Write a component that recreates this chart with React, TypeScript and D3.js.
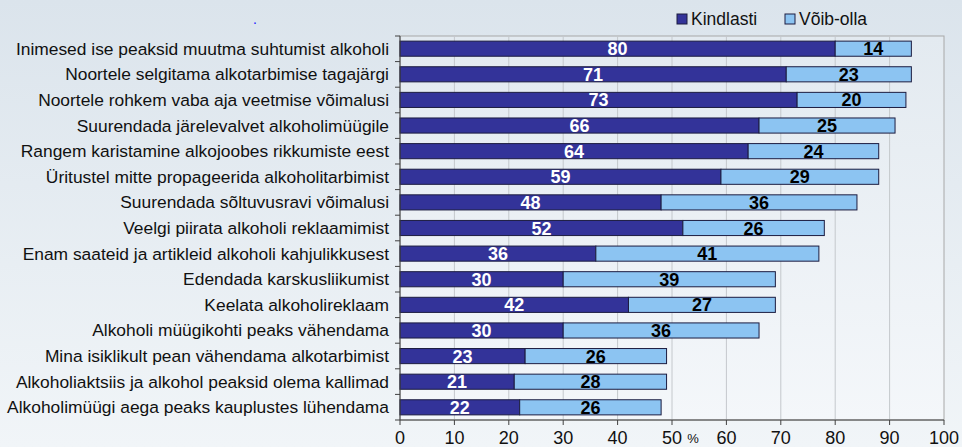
import React from "react";
import * as d3 from "d3";

const categories = [
  "Inimesed ise peaksid muutma suhtumist alkoholi",
  "Noortele selgitama alkotarbimise tagajärgi",
  "Noortele rohkem vaba aja veetmise võimalusi",
  "Suurendada järelevalvet alkoholimüügile",
  "Rangem karistamine alkojoobes rikkumiste eest",
  "Üritustel mitte propageerida alkoholitarbimist",
  "Suurendada sõltuvusravi võimalusi",
  "Veelgi piirata alkoholi reklaamimist",
  "Enam saateid ja artikleid alkoholi kahjulikkusest",
  "Edendada karskusliikumist",
  "Keelata alkoholireklaam",
  "Alkoholi müügikohti peaks vähendama",
  "Mina isiklikult pean vähendama alkotarbimist",
  "Alkoholiaktsiis ja alkohol peaksid olema kallimad",
  "Alkoholimüügi aega peaks kauplustes lühendama",
];
const kindlasti = [80, 71, 73, 66, 64, 59, 48, 52, 36, 30, 42, 30, 23, 21, 22];
const voibOlla = [14, 23, 20, 25, 24, 29, 36, 26, 41, 39, 27, 36, 26, 28, 26];
const seriesNames = ["Kindlasti", "Võib-olla"];
const xTicks = [0, 10, 20, 30, 40, 50, 60, 70, 80, 90, 100];

const W = 962;
const H = 447;
const DARK = "#333399";
const LIGHT = "#8cc4f2";
const FONT = "'Liberation Sans', Arial, sans-serif";

export default function App() {
  const x = d3.scaleLinear().domain([0, 100]).range([400, 944]);
  const y = d3.scaleBand<string>().domain(categories).range([36, 420]).paddingInner(0.41).paddingOuter(0.2);
  const bh = y.bandwidth();
  const boundaries = d3.range(categories.length + 1).map((i) => 36 + i * (384 / categories.length));

  return (
    <svg width={W} height={H} style={{ position: "absolute", left: 0, top: 0, display: "block" }} fontFamily={FONT}>
      <defs>
        <linearGradient id="bg" x1="0" y1="0" x2="0" y2="1">
          <stop offset="0" stopColor="#dbe4ec" />
          <stop offset="1" stopColor="#f1f5f8" />
        </linearGradient>
        <linearGradient id="plotbg" x1="0" y1="0" x2="0" y2="1">
          <stop offset="0" stopColor="#e3eaf0" />
          <stop offset="1" stopColor="#f4f7fa" />
        </linearGradient>
      </defs>
      <rect x={0} y={0} width={W} height={H} fill="url(#bg)" />
      <rect x={x(0)} y={36} width={x(100) - x(0)} height={384} fill="url(#plotbg)" stroke="#a8a8a8" strokeWidth={1} />
      <text x={253} y={24} fill="#2020ff" fontSize={14}>.</text>
      {/* grid */}
      {xTicks.slice(1, -1).map((t) => (
        <line key={t} x1={x(t)} x2={x(t)} y1={36} y2={420} stroke="#c4c8cc" strokeWidth={1} />
      ))}
      {/* bars */}
      {categories.map((c, i) => {
        const yy = y(c) as number;
        const a = kindlasti[i];
        const b = voibOlla[i];
        return (
          <g key={c}>
            <rect x={x(0)} y={yy} width={x(a) - x(0)} height={bh} fill={DARK} stroke="#1c1c40" strokeWidth={1} />
            <rect x={x(a)} y={yy} width={x(a + b) - x(a)} height={bh} fill={LIGHT} stroke="#1c1c40" strokeWidth={1} />
            <text x={(x(0) + x(a)) / 2} y={yy + bh / 2 + 6.5} textAnchor="middle" fill="#ffffff" fontWeight="bold" fontSize={18}>{a}</text>
            <text x={(x(a) + x(a + b)) / 2} y={yy + bh / 2 + 6.5} textAnchor="middle" fill="#000000" fontWeight="bold" fontSize={18}>{b}</text>
            <text x={389} y={yy + bh / 2 + 6} textAnchor="end" fill="#111111" fontSize={17.4}>{c}</text>
          </g>
        );
      })}
      {/* y axis */}
      <line x1={x(0)} x2={x(0)} y1={36} y2={420} stroke="#404040" strokeWidth={1} />
      {boundaries.map((b, i) => (
        <line key={i} x1={x(0) - 5} x2={x(0)} y1={b} y2={b} stroke="#404040" strokeWidth={1} />
      ))}
      {/* x axis */}
      <line x1={x(0)} x2={x(100)} y1={420} y2={420} stroke="#404040" strokeWidth={1} />
      {xTicks.map((t) => (
        <g key={t}>
          <line x1={x(t)} x2={x(t)} y1={420} y2={425} stroke="#404040" strokeWidth={1} />
          <text x={x(t)} y={444} textAnchor="middle" fill="#111111" fontSize={18}>{t}</text>
        </g>
      ))}
      <text x={693} y={443} textAnchor="middle" fill="#111111" fontSize={13}>%</text>
      {/* legend */}
      <rect x={677} y={14} width={10} height={10} fill={DARK} stroke="#1c1c40" strokeWidth={1} />
      <text x={691} y={25} fill="#111111" fontSize={17.5}>{seriesNames[0]}</text>
      <rect x={785} y={14} width={10} height={10} fill={LIGHT} stroke="#1c1c40" strokeWidth={1} />
      <text x={799} y={25} fill="#111111" fontSize={17.5}>{seriesNames[1]}</text>
    </svg>
  );
}
